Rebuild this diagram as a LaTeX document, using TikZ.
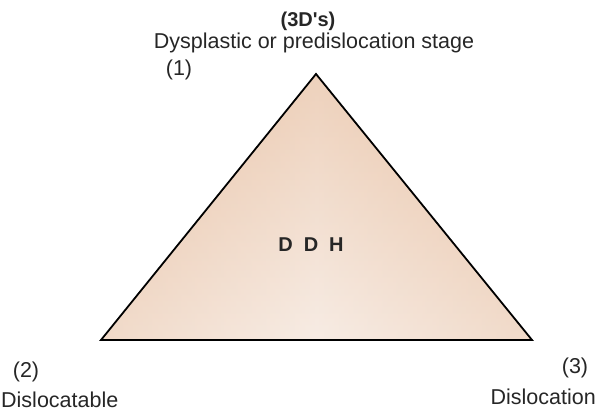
\documentclass[tikz,border=0pt]{standalone}
\usepackage{fontspec}
\setmainfont{Liberation Sans}

\definecolor{skin}{RGB}{232,192,162}
\definecolor{skinlight}{RGB}{247,236,228}
\definecolor{ink}{RGB}{38,38,38}

\begin{document}
\begin{tikzpicture}[x=1pt,y=-1pt]
    \tikzstyle{every node}=[text=ink, inner sep=0pt, anchor=base];
    \tikzstyle{stagetext}=[font=\fontsize{21.5}{25}\selectfont];
    \tikzstyle{boldtext}=[font=\fontsize{20}{24}\selectfont\bfseries];
    \useasboundingbox (0,0) rectangle (599,411);
    % corners of the triangle
    \coordinate (A) at (316,74);
    \coordinate (B) at (101,340);
    \coordinate (C) at (532,340);
    \shade[left color=skin, right color=skin, middle color=skinlight] (A) -- (B) -- (C) -- cycle;
    \shade[top color=skin, bottom color=skinlight, opacity=0.6] (A) -- (B) -- (C) -- cycle;
    \draw[line width=1.8pt, line join=miter] (A) -- (B) -- (C) -- cycle;
    % texts
    \node[boldtext] (title) at (308,27) {(3D\textquotesingle s)};
    \node[stagetext] (stage) at (314,49) {Dysplastic or predislocation stage};
    \node[stagetext] (one) at (179,76) {(1)};
    \node[boldtext] (ddh) at (311,252) {D\hspace{0.55em}D\hspace{0.55em}H};
    \node[stagetext] (two) at (26,377) {(2)};
    \node[stagetext, anchor=base west] (dysloc) at (1,407) {Dislocatable};
    \node[stagetext] (three) at (575,373) {(3)};
    \node[stagetext, anchor=base east] (disloc) at (596,404) {Dislocation};
\end{tikzpicture}
\end{document}
